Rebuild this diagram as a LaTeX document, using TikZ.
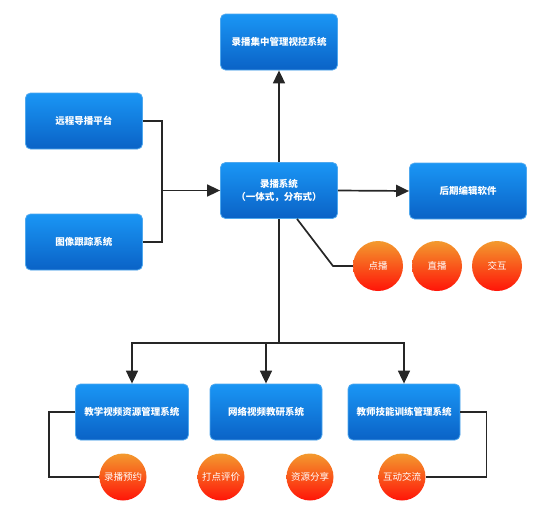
\documentclass[tikz,border=0pt]{standalone}
\usepackage{fontspec}
\setmainfont{Noto Sans CJK SC}
\usetikzlibrary{arrows.meta, positioning, calc}
\definecolor{boxtop}{HTML}{1A96F5}
\definecolor{boxbot}{HTML}{0A62C6}
\definecolor{boxline}{HTML}{4FA8EE}
\definecolor{dottop}{HTML}{F39A2E}
\definecolor{dotbot}{HTML}{FF1408}

\begin{document}
\begin{tikzpicture}[x=1pt, y=-1pt,
    every node/.style={align=center, text=white, font=\bfseries\fontsize{9.5}{13}\selectfont},
    sysbox/.style={rectangle, rounded corners=5pt, draw=boxline, thick, top color=boxtop, bottom color=boxbot, minimum width=117pt, minimum height=56pt, inner sep=0pt},
    dot/.style={circle, top color=dottop, bottom color=dotbot, minimum size=50pt, inner sep=0pt, font=\fontsize{9.5}{11}\selectfont},
    link/.style={line width=1.7pt, black!85},
    arr/.style={link, -{Triangle[length=13pt,width=12pt]}}]
        \useasboundingbox (0,0) rectangle (550,515);

        % Upper part
        \node (ctrl) [sysbox] at (279,42) {录播集中管理视控系统};
        \node (remote) [sysbox] at (84,121) {远程导播平台};
        \node (track) [sysbox] at (84,242) {图像跟踪系统};
        \node (rec) [sysbox] at (279,190.5) {录播系统\\（一体式，分布式）};
        \node (post) [sysbox] at (468,191) {后期编辑软件};

        % Functions of the recorder
        \node (vod) [dot] at (378,266) {点播};
        \node (live) [dot] at (437,266) {直播};
        \node (inter) [dot] at (497,266) {交互};

        % Lower part
        \node (edu) [sysbox, minimum width=113pt] at (132,412) {教学视频资源管理系统};
        \node (net) [sysbox, minimum width=112pt] at (266,412) {网络视频教研系统};
        \node (skill) [sysbox, minimum width=112pt] at (404,412) {教师技能训练管理系统};

        \node (book) [dot, minimum size=47pt] at (123,477) {录播预约};
        \node (mark) [dot, minimum size=47pt] at (221,477) {打点评价};
        \node (share) [dot, minimum size=47pt] at (310,477) {资源分享};
        \node (chat) [dot, minimum size=47pt] at (402,477) {互动交流};

        % Connectors
        \coordinate (join) at (162,190.5);
        \draw[link] (remote.east) -| (join);
        \draw[link] (track.east) -| (join);
        \draw[arr] (join) -- (rec.west);
        \draw[arr] (rec.north) -- (ctrl.south);
        \draw[arr] (rec.east) -- (post.west);
        \coordinate (bend) at (333,266);
        \draw[link] ($(rec.south)+(18,0)$) -- (bend) -- (vod.west);

        \coordinate (split) at (279,343);
        \draw[link] (rec.south) -- (split);
        \draw[arr] (split) -| (edu.north);
        \draw[arr] (split) -| (net.north);
        \draw[arr] (split) -| (skill.north);

        \draw[link] (edu.west) -- ++(-26,0) |- (book.west);
        \draw[link] (skill.east) -- ++(26,0) |- (chat.east);
    \end{tikzpicture}
\end{document}
